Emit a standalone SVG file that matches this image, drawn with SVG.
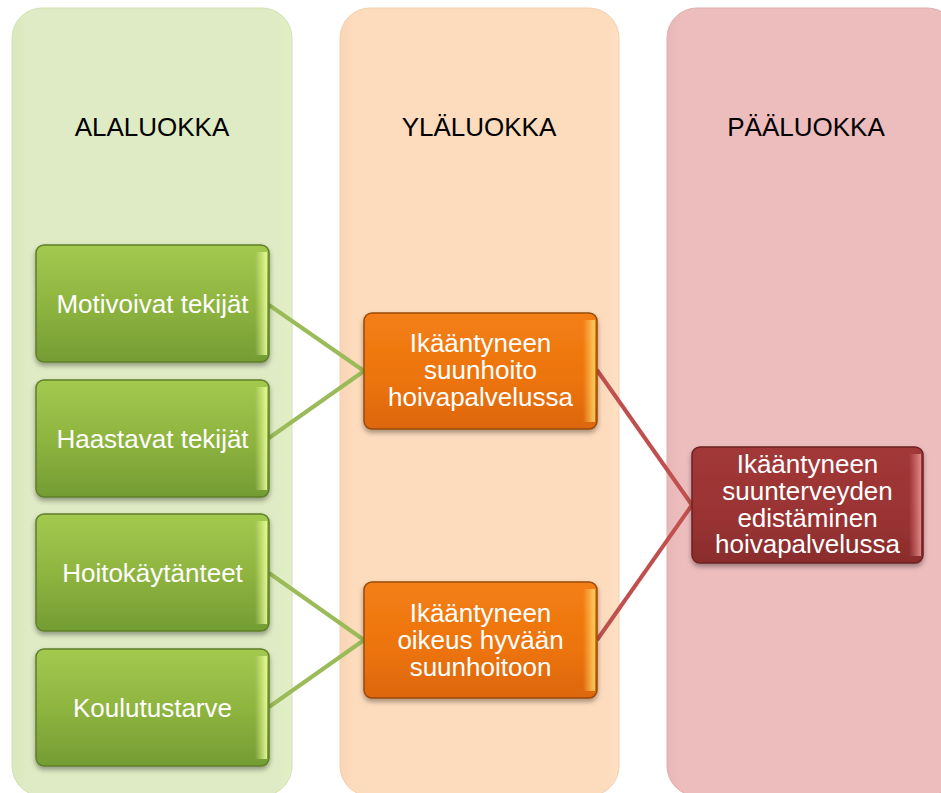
<svg xmlns="http://www.w3.org/2000/svg" width="941" height="793" viewBox="0 0 941 793">
<style>
  .hdr { font-family: "Liberation Sans", Arial, sans-serif; font-size: 26px; fill: #000; text-anchor: middle; }
  .lbl { font-family: "Liberation Sans", Arial, sans-serif; font-size: 26px; fill: #fff; text-anchor: middle; }
  .gline { stroke: #9BBB59; stroke-width: 4; fill: none; }
  .rline { stroke: #C0504D; stroke-width: 4; fill: none; }
  .gbox { fill: url(#gGreen); stroke: #5f7f2a; stroke-width: 1.5; filter: url(#sh); }
  .obox { fill: url(#gOrange); stroke: #9a4a08; stroke-width: 1.5; filter: url(#sh); }
  .rbox { fill: url(#gRed); stroke: #6e2020; stroke-width: 1.5; filter: url(#sh); }
</style>
<defs>
  <linearGradient id="gGreen" x1="0" y1="0" x2="0" y2="1">
    <stop offset="0" stop-color="#a3c94f"/>
    <stop offset="0.5" stop-color="#8fb540"/>
    <stop offset="1" stop-color="#739c33"/>
  </linearGradient>
  <linearGradient id="gOrange" x1="0" y1="0" x2="0" y2="1">
    <stop offset="0" stop-color="#f47f14"/>
    <stop offset="0.6" stop-color="#ec730e"/>
    <stop offset="1" stop-color="#dc660a"/>
  </linearGradient>
  <linearGradient id="gRed" x1="0" y1="0" x2="0" y2="1">
    <stop offset="0" stop-color="#a23838"/>
    <stop offset="0.6" stop-color="#9a3333"/>
    <stop offset="1" stop-color="#8a2c2c"/>
  </linearGradient>
  <linearGradient id="hiG" x1="0" y1="0" x2="1" y2="0">
    <stop offset="0" stop-color="#e8f7a0" stop-opacity="0"/>
    <stop offset="1" stop-color="#eaff9a" stop-opacity="0.9"/>
  </linearGradient>
  <linearGradient id="hiO" x1="0" y1="0" x2="1" y2="0">
    <stop offset="0" stop-color="#ffd060" stop-opacity="0"/>
    <stop offset="1" stop-color="#ffd060" stop-opacity="0.95"/>
  </linearGradient>
  <linearGradient id="hiR" x1="0" y1="0" x2="1" y2="0">
    <stop offset="0" stop-color="#e08080" stop-opacity="0"/>
    <stop offset="1" stop-color="#e59090" stop-opacity="0.9"/>
  </linearGradient>
  <linearGradient id="colG" x1="0" y1="0" x2="1" y2="0">
    <stop offset="0" stop-color="#d9e8bd"/>
    <stop offset="0.05" stop-color="#deebc4"/>
    <stop offset="0.95" stop-color="#deebc4"/>
    <stop offset="1" stop-color="#e3f0c6"/>
  </linearGradient>
  <linearGradient id="colO" x1="0" y1="0" x2="1" y2="0">
    <stop offset="0" stop-color="#f8d5b6"/>
    <stop offset="0.05" stop-color="#fddbbd"/>
    <stop offset="0.95" stop-color="#fddbbd"/>
    <stop offset="1" stop-color="#fee0c2"/>
  </linearGradient>
  <linearGradient id="colR" x1="0" y1="0" x2="1" y2="0">
    <stop offset="0" stop-color="#e8b7b8"/>
    <stop offset="0.05" stop-color="#edbdbe"/>
    <stop offset="0.95" stop-color="#edbdbe"/>
    <stop offset="1" stop-color="#f0c2c3"/>
  </linearGradient>
  <filter id="sh" x="-10%" y="-10%" width="120%" height="130%">
    <feDropShadow dx="0" dy="3" stdDeviation="2.5" flood-color="#000" flood-opacity="0.35"/>
  </filter>
</defs>

<g id="columns">
  <g id="col-alaluokka">
    <rect x="12" y="8" width="280" height="788" rx="30" fill="url(#colG)" stroke="#d2e1b4" stroke-width="1"/>
    <text class="hdr" x="152" y="136">ALALUOKKA</text>
  </g>
  <g id="col-ylaluokka">
    <rect x="340" y="8" width="279" height="788" rx="30" fill="url(#colO)" stroke="#f3cfae" stroke-width="1"/>
    <text class="hdr" x="479" y="136">YLÄLUOKKA</text>
  </g>
  <g id="col-paaluokka">
    <rect x="667" y="8" width="290" height="788" rx="30" fill="url(#colR)" stroke="#e0aeaf" stroke-width="1"/>
    <text class="hdr" x="806" y="136">PÄÄLUOKKA</text>
  </g>
</g>

<g id="connectors">
  <line class="gline" x1="269" y1="305" x2="364" y2="371"/>
  <line class="gline" x1="269" y1="438" x2="364" y2="371"/>
  <line class="gline" x1="269" y1="573" x2="364" y2="640"/>
  <line class="gline" x1="269" y1="707" x2="364" y2="640"/>
  <line class="rline" x1="597" y1="370" x2="692" y2="505"/>
  <line class="rline" x1="597" y1="640" x2="692" y2="505"/>
</g>

<g id="n-motivoivat">
  <rect class="gbox" x="36" y="245" width="233" height="117" rx="8"/>
  <rect x="255" y="252" width="12" height="103" fill="url(#hiG)"/>
  <text class="lbl" x="152.5" y="313">Motivoivat tekijät</text>
</g>
<g id="n-haastavat">
  <rect class="gbox" x="36" y="380" width="233" height="117" rx="8"/>
  <rect x="255" y="387" width="12" height="103" fill="url(#hiG)"/>
  <text class="lbl" x="152.5" y="448">Haastavat tekijät</text>
</g>
<g id="n-hoitokaytanteet">
  <rect class="gbox" x="36" y="514" width="233" height="117" rx="8"/>
  <rect x="255" y="521" width="12" height="103" fill="url(#hiG)"/>
  <text class="lbl" x="152.5" y="582">Hoitokäytänteet</text>
</g>
<g id="n-koulutustarve">
  <rect class="gbox" x="36" y="649" width="233" height="117" rx="8"/>
  <rect x="255" y="656" width="12" height="103" fill="url(#hiG)"/>
  <text class="lbl" x="152.5" y="717">Koulutustarve</text>
</g>

<g id="n-suunhoito">
  <rect class="obox" x="364" y="313" width="233" height="116" rx="8"/>
  <rect x="583" y="320" width="12" height="102" fill="url(#hiO)"/>
  <text class="lbl" x="480.5" y="352"><tspan x="480.5">Ikääntyneen</tspan><tspan x="480.5" dy="27">suunhoito</tspan><tspan x="480.5" dy="27">hoivapalvelussa</tspan></text>
</g>
<g id="n-oikeus">
  <rect class="obox" x="364" y="582" width="233" height="116" rx="8"/>
  <rect x="583" y="589" width="12" height="102" fill="url(#hiO)"/>
  <text class="lbl" x="480.5" y="622"><tspan x="480.5">Ikääntyneen</tspan><tspan x="480.5" dy="27">oikeus hyvään</tspan><tspan x="480.5" dy="27">suunhoitoon</tspan></text>
</g>

<g id="n-edistaminen">
  <rect class="rbox" x="692" y="447" width="231" height="116" rx="8"/>
  <rect x="909" y="454" width="12" height="102" fill="url(#hiR)"/>
  <text class="lbl" x="807.5" y="473"><tspan x="807.5">Ikääntyneen</tspan><tspan x="807.5" dy="27">suunterveyden</tspan><tspan x="807.5" dy="27">edistäminen</tspan><tspan x="807.5" dy="26">hoivapalvelussa</tspan></text>
</g>
</svg>
